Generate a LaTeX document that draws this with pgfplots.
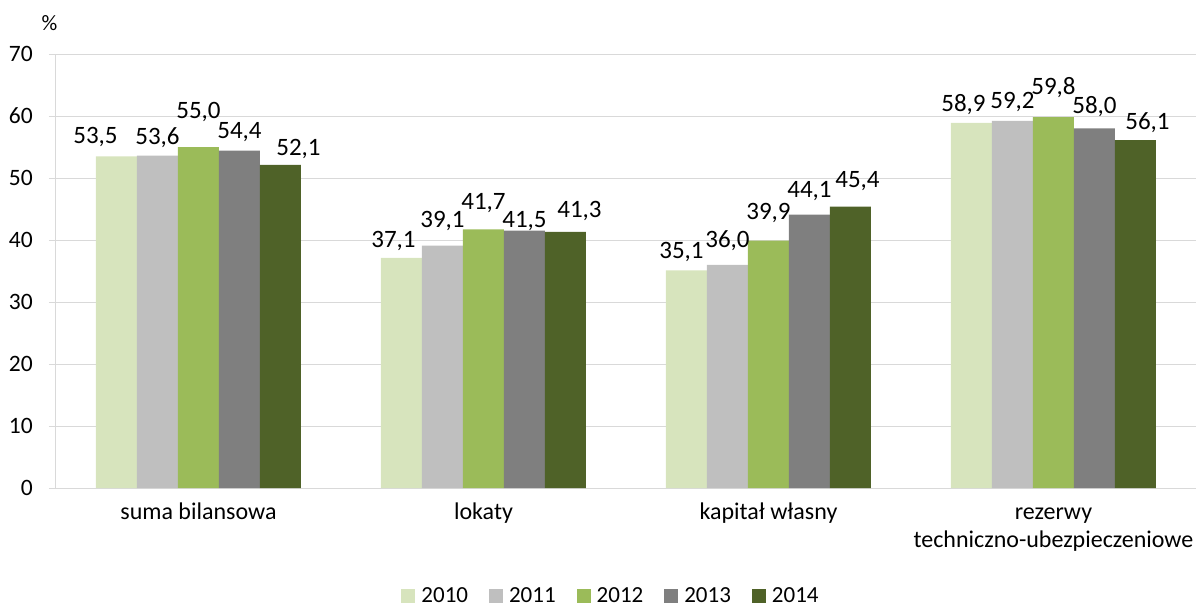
\documentclass[border=0pt]{standalone}
\usepackage{pgfplots}
\usepackage{pgfplotstable}
\pgfplotsset{compat=1.18}
\usepackage{fontspec}
\setmainfont{Carlito}
\definecolor{cA}{HTML}{D7E4BD}
\definecolor{cB}{HTML}{BFBFBF}
\definecolor{cC}{HTML}{9BBB59}
\definecolor{cD}{HTML}{7F7F7F}
\definecolor{cE}{HTML}{4F6228}
\definecolor{gridgray}{HTML}{D9D9D9}
\pgfplotstableread{
x y dx dy
0 53.5 -21 19
1 37.1 -8 17
2 35.1 -5 18
3 58.9 -8 18
}\tA
\pgfplotstableread{
x y dx dy
0 53.6 0 18
1 39.1 0 25
2 36.0 0 24
3 59.2 0 19
}\tB
\pgfplotstableread{
x y dx dy
0 55.0 0 35
1 41.7 0 26
2 39.9 0 28
3 59.8 0 30
}\tC
\pgfplotstableread{
x y dx dy
0 54.4 0 19
1 41.5 0 10
2 44.1 0 24
3 58.0 0 22
}\tD
\pgfplotstableread{
x y dx dy
0 52.1 18 16
1 41.3 14 21
2 45.4 7 25
3 56.1 12 18
}\tE
\newcommand{\legf}{\fontsize{23}{28}\selectfont}
\newcommand{\tickf}{\fontsize{23.5}{28}\selectfont}
\newcommand{\catf}{\fontsize{24}{28}\selectfont}
\newcommand{\labf}{\fontsize{25}{30}\selectfont}
\begin{document}
\begin{tikzpicture}
\useasboundingbox (-56pt,-120pt) rectangle (1140pt,488pt);
\begin{axis}[
  at={(0pt,0pt)}, anchor=south west,
  scale only axis, width=1140pt, height=434pt,
  clip=false,
  /pgf/number format/assume math mode=true,
  ymin=0, ymax=70, ytick={0,10,...,70},
  xmin=-0.5, xmax=3.5, xtick={0,1,2,3},
  xticklabels={{\strut suma bilansowa},{\strut lokaty},{\strut kapitał własny},{\strut rezerwy\\techniczno-ubezpieczeniowe}},
  axis x line*=bottom, axis y line*=left,
  axis line style={draw=gridgray, line width=1pt},
  ymajorgrids, grid style={draw=gridgray, line width=1pt},
  tick align=outside, major tick length=7pt,
  ytick style={draw=gridgray, line width=1pt},
  xtick style={draw=none},
  yticklabel style={font=\tickf, anchor=east, inner sep=0pt, xshift=-16pt},
  xticklabel style={font=\catf, align=center, anchor=north, inner sep=0pt, yshift=-5pt},
  ybar=0pt, bar width=41pt,
  every axis plot/.append style={draw=none},
  nodes near coords={\pgfmathprintnumber[fixed,fixed zerofill,precision=1,use comma]{\pgfplotspointmeta}},
  visualization depends on={\thisrow{dx} \as \dx},
  visualization depends on={\thisrow{dy} \as \dy},
  nodes near coords style={font=\labf, anchor=center, inner sep=0pt, xshift=\dx pt, yshift=\dy pt, text=black},
  legend columns=5,
  legend style={draw=none, font=\legf, at={(0.486,-0.2488)}, anchor=center,
    /tikz/every odd column/.style={column sep=6pt},
    /tikz/every even column/.style={column sep=21pt},
    nodes={inner sep=0pt}},
  legend image code/.code={\fill[#1] (0pt,-7pt) rectangle (14pt,7pt);},
]
\addplot[fill=cA] table[x=x,y=y] {\tA};
\addplot[fill=cB] table[x=x,y=y] {\tB};
\addplot[fill=cC] table[x=x,y=y] {\tC};
\addplot[fill=cD] table[x=x,y=y] {\tD};
\addplot[fill=cE] table[x=x,y=y] {\tE};
\legend{2010,2011,2012,2013,2014}
\node[font=\fontsize{22}{26}\selectfont] at (axis description cs:-0.0057,1.0703) {\%};
\end{axis}
\end{tikzpicture}
\end{document}
